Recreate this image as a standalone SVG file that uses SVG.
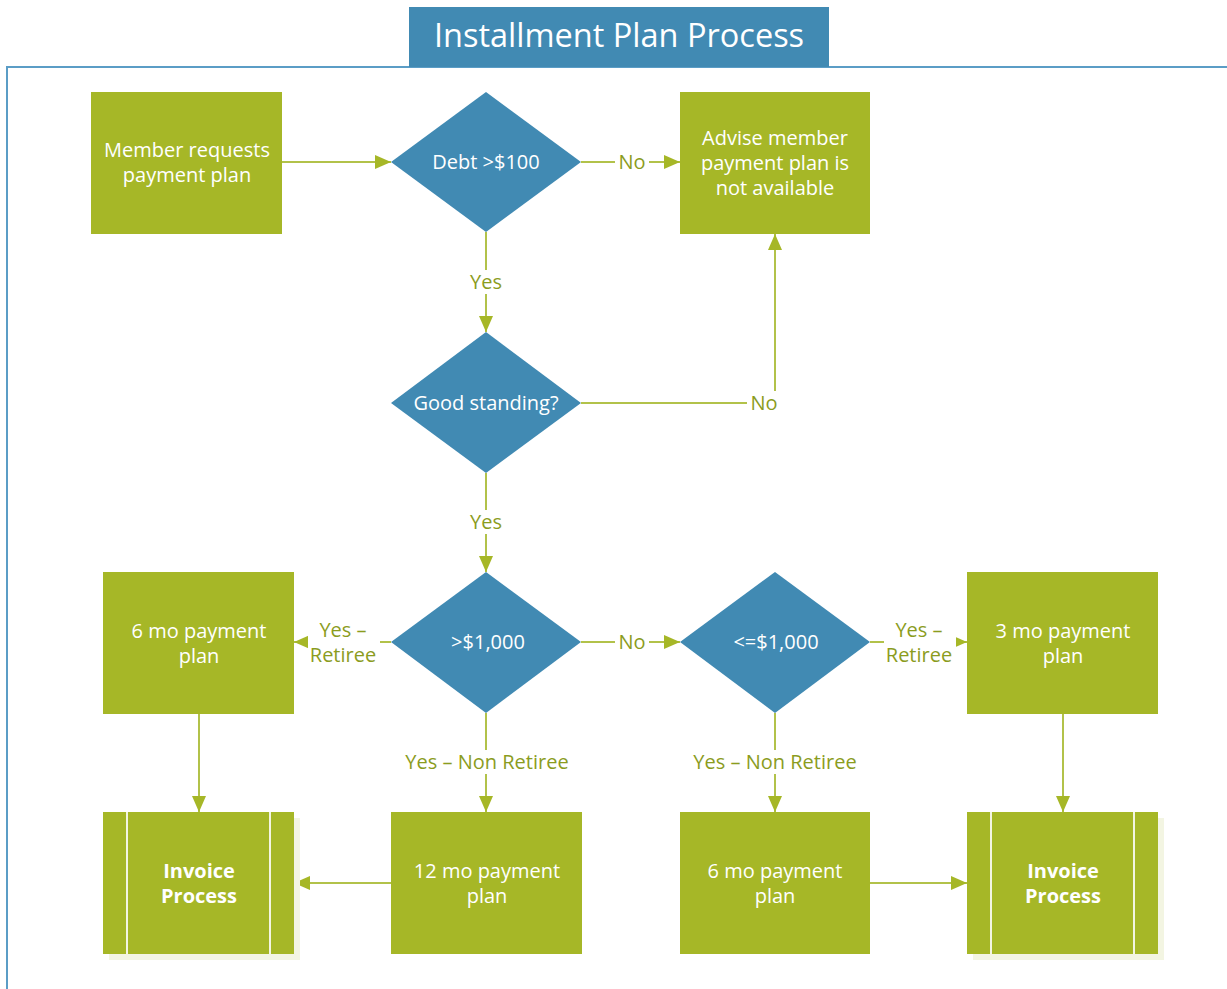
<svg xmlns="http://www.w3.org/2000/svg" width="1227" height="989" viewBox="0 0 1227 989">
  <style>
    .box { fill: #A6B727; }
    .shadow { fill: #F3F5E2; }
    .dia { fill: #418AB3; }
    .t { font-family: "Open Sans", "Noto Sans", sans-serif; font-size: 20px; fill: #FFFFFF; text-anchor: middle; }
    .tb { font-family: "Open Sans", "Noto Sans", sans-serif; font-size: 20px; font-weight: bold; fill: #FFFFFF; text-anchor: middle; }
    .lbl { font-family: "Open Sans", "Noto Sans", sans-serif; font-size: 20px; fill: #8B9C1E; text-anchor: middle; }
    .lbg { fill: #FFFFFF; }
    .edge { stroke: #B2C24A; stroke-width: 2; fill: none; marker-end: url(#arr); }
    .sub { stroke: #F3F5E2; stroke-width: 2; }
  </style>
  <defs>
    <marker id="arr" viewBox="0 0 16 14" refX="16" refY="7" markerWidth="16" markerHeight="14" markerUnits="userSpaceOnUse" orient="auto">
      <path d="M0,0 L16,7 L0,14 Z" fill="#A6B727"/>
    </marker>
  </defs>
  <rect width="1227" height="989" fill="#FFFFFF"/>

  <!-- frame -->
  <g id="frame">
    <path d="M7,989 V67 H1227" stroke="#5B9DC6" stroke-width="2" fill="none"/>
    <rect x="409" y="7" width="420" height="60" fill="#418AB3"/>
    <text x="619" y="47" font-family="'Open Sans', 'Noto Sans', sans-serif" font-size="32.5" fill="#FFFFFF" text-anchor="middle">Installment Plan Process</text>
  </g>

  <!-- connectors -->
  <g id="connectors">
    <line class="edge" x1="282" y1="162" x2="391" y2="162"/>
    <line class="edge" x1="581" y1="162" x2="680" y2="162"/>
    <line class="edge" x1="486" y1="232" x2="486" y2="332"/>
    <polyline class="edge" points="581,403 775,403 775,234"/>
    <line class="edge" x1="486" y1="473" x2="486" y2="572"/>
    <line class="edge" x1="391" y1="642" x2="294" y2="642"/>
    <line class="edge" x1="581" y1="642" x2="680" y2="642"/>
    <line class="edge" x1="870" y1="642" x2="967" y2="642"/>
    <line class="edge" x1="486" y1="713" x2="486" y2="812"/>
    <line class="edge" x1="775" y1="713" x2="775" y2="812"/>
    <line class="edge" x1="199" y1="714" x2="199" y2="812"/>
    <line class="edge" x1="391" y1="883" x2="294" y2="883"/>
    <line class="edge" x1="870" y1="883" x2="967" y2="883"/>
    <line class="edge" x1="1063" y1="714" x2="1063" y2="812"/>

    <!-- edge labels -->
    <rect class="lbg" x="615" y="150" width="34" height="24"/>
    <text class="lbl" x="632" y="169">No</text>
    <rect class="lbg" x="467" y="270" width="38" height="24"/>
    <text class="lbl" x="486" y="289">Yes</text>
    <rect class="lbg" x="747" y="391" width="34" height="24"/>
    <text class="lbl" x="764" y="410">No</text>
    <rect class="lbg" x="467" y="510" width="38" height="24"/>
    <text class="lbl" x="486" y="529">Yes</text>
    <rect class="lbg" x="308" y="619" width="72" height="48"/>
    <text class="lbl" x="343" y="637">Yes –</text>
    <text class="lbl" x="343" y="662">Retiree</text>
    <rect class="lbg" x="615" y="630" width="34" height="24"/>
    <text class="lbl" x="632" y="649">No</text>
    <rect class="lbg" x="884" y="619" width="72" height="48"/>
    <text class="lbl" x="919" y="637">Yes –</text>
    <text class="lbl" x="919" y="662">Retiree</text>
    <rect class="lbg" x="400" y="750" width="174" height="24"/>
    <text class="lbl" x="487" y="769">Yes – Non Retiree</text>
    <rect class="lbg" x="688" y="750" width="174" height="24"/>
    <text class="lbl" x="775" y="769">Yes – Non Retiree</text>
  </g>

  <g id="member-request">
    <rect class="box" x="91" y="92" width="191" height="142"/>
    <text class="t" x="187" y="157">Member requests</text>
    <text class="t" x="187" y="182">payment plan</text>
  </g>

  <g id="debt-check">
    <polygon class="dia" points="486,92 581,162 486,232 391,162"/>
    <text class="t" x="486" y="169">Debt &gt;$100</text>
  </g>

  <g id="advise-member">
    <rect class="box" x="680" y="92" width="190" height="142"/>
    <text class="t" x="775" y="145">Advise member</text>
    <text class="t" x="775" y="170">payment plan is</text>
    <text class="t" x="775" y="195">not available</text>
  </g>

  <g id="good-standing">
    <polygon class="dia" points="486,332 581,403 486,473 391,403"/>
    <text class="t" x="486" y="410">Good standing?</text>
  </g>

  <g id="over-1000">
    <polygon class="dia" points="486,572 581,642 486,713 391,642"/>
    <text class="t" x="488" y="649">&gt;$1,000</text>
  </g>

  <g id="under-1000">
    <polygon class="dia" points="775,572 870,642 775,713 680,642"/>
    <text class="t" x="776" y="649">&lt;=$1,000</text>
  </g>

  <g id="six-mo-left">
    <rect class="box" x="103" y="572" width="191" height="142"/>
    <text class="t" x="199" y="638">6 mo payment</text>
    <text class="t" x="199" y="663">plan</text>
  </g>

  <g id="three-mo">
    <rect class="box" x="967" y="572" width="191" height="142"/>
    <text class="t" x="1063" y="638">3 mo payment</text>
    <text class="t" x="1063" y="663">plan</text>
  </g>

  <g id="invoice-left">
    <rect class="shadow" x="109" y="818" width="191" height="142"/>
    <rect class="box" x="103" y="812" width="191" height="142"/>
    <line class="sub" x1="127" y1="812" x2="127" y2="954"/>
    <line class="sub" x1="270" y1="812" x2="270" y2="954"/>
    <text class="tb" x="199" y="878">Invoice</text>
    <text class="tb" x="199" y="903">Process</text>
  </g>

  <g id="twelve-mo">
    <rect class="box" x="391" y="812" width="191" height="142"/>
    <text class="t" x="487" y="878">12 mo payment</text>
    <text class="t" x="487" y="903">plan</text>
  </g>

  <g id="six-mo-right">
    <rect class="box" x="680" y="812" width="190" height="142"/>
    <text class="t" x="775" y="878">6 mo payment</text>
    <text class="t" x="775" y="903">plan</text>
  </g>

  <g id="invoice-right">
    <rect class="shadow" x="973" y="818" width="191" height="142"/>
    <rect class="box" x="967" y="812" width="191" height="142"/>
    <line class="sub" x1="991" y1="812" x2="991" y2="954"/>
    <line class="sub" x1="1134" y1="812" x2="1134" y2="954"/>
    <text class="tb" x="1063" y="878">Invoice</text>
    <text class="tb" x="1063" y="903">Process</text>
  </g>
</svg>
